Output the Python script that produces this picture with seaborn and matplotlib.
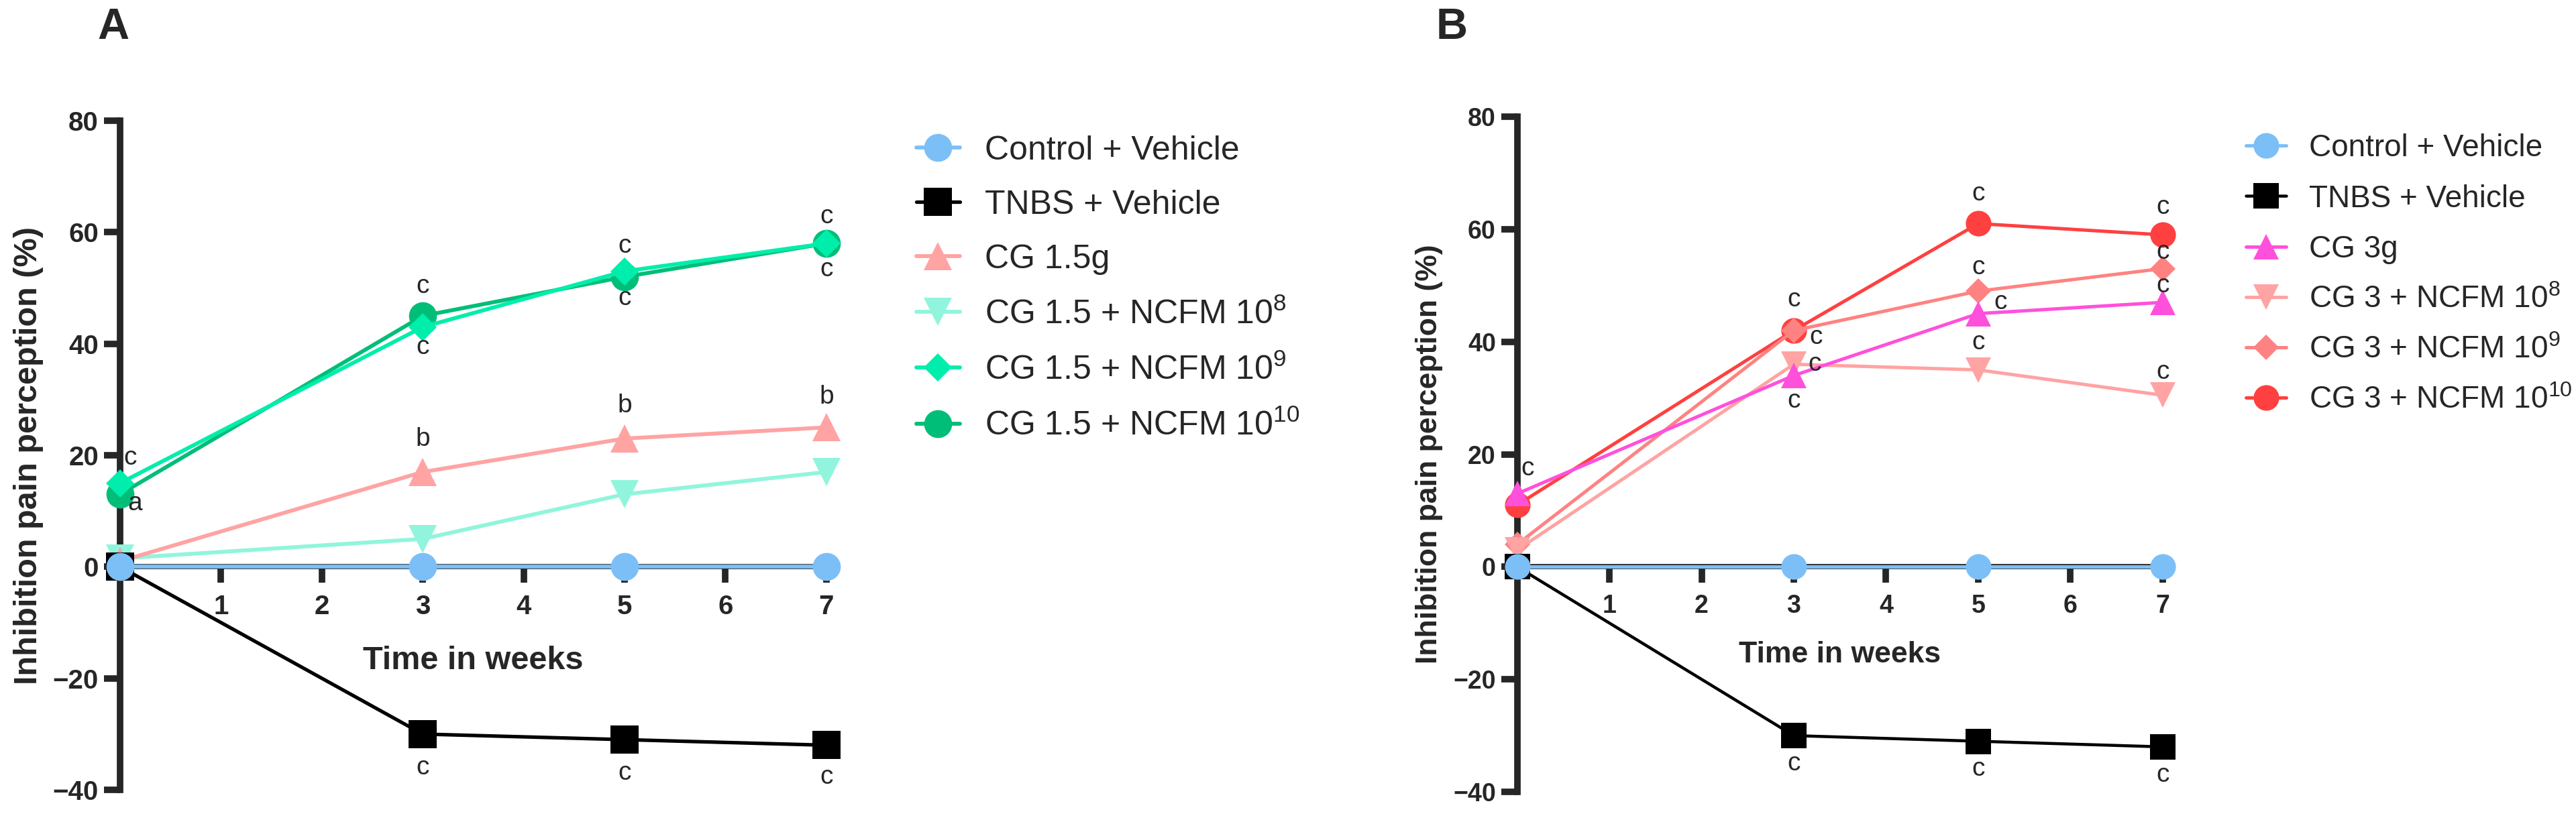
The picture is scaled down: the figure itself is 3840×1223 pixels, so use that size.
import matplotlib
matplotlib.use('Agg')
import matplotlib.pyplot as plt
import seaborn as sns
import pandas as pd

# ---- data ----
weeks = [0, 3, 5, 7]
x_ticks = [1, 2, 3, 4, 5, 6, 7]
y_ticks = [-40, -20, 0, 20, 40, 60, 80]

labels_a = ['Control + Vehicle', 'TNBS + Vehicle', 'CG 1.5g',
            r'CG 1.5 + NCFM 10$^{8}$', r'CG 1.5 + NCFM 10$^{9}$',
            r'CG 1.5 + NCFM 10$^{10}$']
control_a = [0, 0, 0, 0]
tnbs_a = [0, -30, -31, -32]
cg15 = [1, 17, 23, 25]
cg15_ncfm8 = [1.5, 5, 13, 17]
cg15_ncfm9 = [15, 43, 53, 58]
cg15_ncfm10 = [13, 45, 52, 58]
letters_a = [[None, None, None, None],
             [None, 'c', 'c', 'c'],
             [None, 'b', 'b', 'b'],
             [None, None, None, None],
             ['c', 'c', 'c', 'c'],
             ['a', 'c', 'c', 'c']]

labels_b = ['Control + Vehicle', 'TNBS + Vehicle', 'CG 3g',
            r'CG 3 + NCFM 10$^{8}$', r'CG 3 + NCFM 10$^{9}$',
            r'CG 3 + NCFM 10$^{10}$']
control_b = [0, 0, 0, 0]
tnbs_b = [0, -30, -31, -32]
cg3 = [13, 34, 45, 47]
cg3_ncfm8 = [3, 36, 35, 30.5]
cg3_ncfm9 = [4, 42, 49, 53]
cg3_ncfm10 = [11, 42, 61, 59]
letters_b = [[None, None, None, None],
             [None, 'c', 'c', 'c'],
             ['c', 'c', 'c', 'c'],
             [None, 'c', 'c', 'c'],
             [None, 'c', 'c', 'c'],
             [None, 'c', 'c', 'c']]

# ---- style ----
colors_a = ['#7CBFF7', '#000000', '#FFA3A3', '#90F5DC', '#00EEAB', '#00BE78']
colors_b = ['#7CBFF7', '#000000', '#FF50DC', '#FFA3A3', '#FF8282', '#FF4040']
markers = ['o', 's', '^', 'v', 'D', 'o']

# letter offsets in points, per series / per week
offsets_a = [[None] * 4,
             [None, (0, -36), (0, -36), (0, -34)],
             [None, (0, 35), (0, 35), (0, 33)],
             [None] * 4,
             [(11, 27), (0, -22), (0, 27), (0, 29)],
             [(16, -10), (0, 32), (0, -23), (0, -28)]]
offsets_b = [[None] * 4,
             [None, (0, -30), (0, -30), (0, -30)],
             [(11, 27), (0, -27), (24, 12), (0, 18)],
             [None, (22, 0), (0, 29), (0, 25)],
             [None, (24, -7), (0, 25), (0, 18)],
             [None, (0, 33), (0, 32), (0, 30)]]

sns.set_theme(style='ticks')
plt.rcParams['font.family'] = ['Liberation Sans', 'DejaVu Sans']
plt.rcParams['mathtext.fontset'] = 'custom'
plt.rcParams['mathtext.rm'] = 'Liberation Sans'
plt.rcParams['mathtext.default'] = 'regular'

fig = plt.figure(figsize=(38.4, 12.23), dpi=100)
ax_a = fig.add_axes([0.0466, 0.0368, 0.2742, 0.816])
ax_b = fig.add_axes([0.589, 0.0343, 0.2505, 0.8234])


def draw_panel(ax, series, labels, colors, letters, offsets, ms, lw, fs):
    for i, vals in enumerate(series):
        df = pd.DataFrame({'week': weeks, 'value': vals})
        mk = markers[i]
        size = ms / 1.414 if mk == 'D' else ms
        sns.lineplot(data=df, x='week', y='value', ax=ax, color=colors[i],
                     marker=mk, markersize=size, markeredgewidth=0,
                     linewidth=lw if i != 1 else lw * 0.9,
                     label=labels[i], errorbar=None, zorder=20 - i,
                     clip_on=False)
        for x, y, t, o in zip(weeks, vals, letters[i], offsets[i]):
            if t:
                ax.annotate(t, (x, y), xytext=o, textcoords='offset points',
                            ha='center', va='center', fontsize=fs,
                            zorder=30, annotation_clip=False)

    ax.set_xlim(0, 7)
    ax.set_ylim(-40, 80)
    ax.set_xticks(x_ticks)
    ax.set_yticks(y_ticks)
    sns.despine(ax=ax)
    ax.spines['bottom'].set_position(('data', 0))
    ax.spines['left'].set_linewidth(7)
    ax.spines['bottom'].set_linewidth(5.5)
    ax.spines['left'].set_zorder(5)


series_a = [control_a, tnbs_a, cg15, cg15_ncfm8, cg15_ncfm9, cg15_ncfm10]
series_b = [control_b, tnbs_b, cg3, cg3_ncfm8, cg3_ncfm9, cg3_ncfm10]

draw_panel(ax_a, series_a, labels_a, colors_a, letters_a, offsets_a, 30, 4.2, 28)
draw_panel(ax_b, series_b, labels_b, colors_b, letters_b, offsets_b, 27.5, 3.6, 28)

# axes text
for ax, tfs, lfs, xl_y, yl_x, leg_xy, leg_fs, lsp in [
        (ax_a, 29, 35, 0.2154, -0.108, (0.3557, 0.835), 36, 0.70),
        (ax_b, 27, 32, 0.2235, -0.115, (0.8719, 0.837), 33, 0.68)]:
    ax.tick_params(axis='x', length=17, width=7, pad=12, labelsize=tfs)
    ax.tick_params(axis='y', length=17, width=7, pad=6, labelsize=tfs)
    plt.setp(ax.get_xticklabels(), fontweight='bold')
    plt.setp(ax.get_yticklabels(), fontweight='bold')
    ax.set_xlabel('Time in weeks', fontsize=lfs, fontweight='bold')
    ax.set_ylabel('Inhibition pain perception (%)', fontsize=lfs, fontweight='bold')
    ax.xaxis.set_label_coords(0.5, xl_y)
    ax.yaxis.set_label_coords(yl_x, 0.5)
    handles, labs = ax.get_legend_handles_labels()
    ax.legend(handles, labs, loc='upper left', bbox_to_anchor=leg_xy,
              bbox_transform=fig.transFigure, frameon=False, fontsize=leg_fs,
              handlelength=1.3, handletextpad=0.75, labelspacing=lsp,
              borderpad=0, borderaxespad=0, numpoints=1)

fig.text(0.044, 0.9665, 'A', ha='center', va='center', fontsize=47, fontweight='bold')
fig.text(0.5635, 0.9665, 'B', ha='center', va='center', fontsize=47, fontweight='bold')

fig.savefig('out.png', dpi=100)
